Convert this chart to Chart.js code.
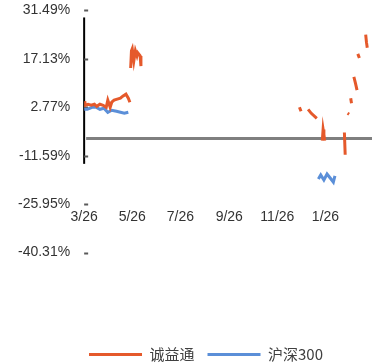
<!DOCTYPE html>
<html>
<head>
<meta charset="utf-8">
<script src="https://cdn.jsdelivr.net/npm/chart.js@4.4.1/dist/chart.umd.min.js"></script>
<style>
  html, body { margin: 0; padding: 0; background: #fff; }
  #wrap { width: 380px; height: 363px; }
</style>
</head>
<body>
<div id="wrap"><canvas id="chart"></canvas></div>
<script>
// x is days since 3/26; null breaks the line
var tickDays = [0, 61, 122, 184, 245, 306];
var tickLabels = ['3/26', '5/26', '7/26', '9/26', '11/26', '1/26'];
var yTicks = [31.49, 17.13, 2.77, -11.59, -25.95, -40.31];

var cytDays = [0, 1, 5, 9, 13, 16, 20, 24, 28, 30, 33, 35, 38, 42, 46, 49, 53, 56, 58,
  58.5, 59, 60, 61, 63, 65, 67, 68, 71, 72,
  200, 273, 275, 280, 284, 288, 295, 298, 302, 303, 304, 305,
  320, 330, 331, 333, 334, 336, 337, 338, 339, 341, 342, 344, 346,
  346.5, 347, 349, 352, 357, 358, 359];
var cytVals = [4.57, 3.37, 3.67, 3.37, 3.67, 3.07, 3.67, 3.37, 2.77, 4.87, 2.77, 4.27, 4.87, 5.17, 5.47, 6.06, 6.66, 5.47, 4.27,
  null, 14.4, 19.5, 20.1, 16.5, 19.5, 18.0, 18.9, 18.0, 15.0,
  null, 2.77, 1.58, null, 2.17, 0.98, -0.52, null, -7.1, -3.8, -5.3, -7.1,
  null, -4.7, -11.3, null, 0.98, 0.68, null, 5.47, 3.97, null, 11.75, 9.95, 7.86,
  null, 18.6, 17.4, null, 24.3, 22.0, 20.4];

var hsDays = [0, 4, 10, 15, 20, 25, 30, 35, 41, 46, 51, 56,
  150, 297, 300, 304, 308, 312, 316, 318];
var hsVals = [2.17, 2.17, 2.77, 2.77, 2.17, 2.47, 1.28, 1.88, 1.58, 1.28, 0.98, 1.28,
  null, -18.5, -17.3, -18.8, -17.0, -18.2, -19.4, -17.6];

var refLine = -6.5;          // grey horizontal line
var axisSpan = [29.4, -14.0]; // drawn part of the y axis line
var xAxisAt = -26.8;
var legendShift = 12;

function pts(days, vals) {
  return days.map(function (d, i) { return { x: d, y: vals[i] }; });
}

var axisDecor = {
  id: 'axisDecor',
  afterLayout: function (chart) {
    chart.legend.left += legendShift;
    chart.legend.right += legendShift;
  },
  beforeDatasetsDraw: function (chart) {
    var ctx = chart.ctx, y = chart.scales.y, a = chart.chartArea;
    ctx.save();
    ctx.strokeStyle = '#7f7f7f';
    ctx.lineWidth = 3;
    var gy = y.getPixelForValue(refLine);
    ctx.beginPath(); ctx.moveTo(a.left + 2, gy); ctx.lineTo(a.right, gy); ctx.stroke();

    ctx.strokeStyle = '#000';
    ctx.lineWidth = 2;
    ctx.beginPath();
    ctx.moveTo(a.left, y.getPixelForValue(axisSpan[0]));
    ctx.lineTo(a.left, y.getPixelForValue(axisSpan[1]));
    ctx.stroke();

    ctx.strokeStyle = '#595959';
    ctx.lineWidth = 2;
    yTicks.forEach(function (v) {
      var ty = Math.round(y.getPixelForValue(v)) + 0.5;
      ctx.beginPath(); ctx.moveTo(a.left, ty); ctx.lineTo(a.left + 4, ty); ctx.stroke();
    });
    ctx.restore();
  }
};

new Chart(document.getElementById('chart'), {
  type: 'line',
  data: {
    datasets: [{
      label: '诚益通',
      data: pts(cytDays, cytVals),
      borderColor: '#e5592b',
      backgroundColor: '#e5592b',
      borderWidth: 3,
      pointRadius: 0,
      spanGaps: false
    }, {
      label: '沪深300',
      data: pts(hsDays, hsVals),
      borderColor: '#5b8fd8',
      backgroundColor: '#5b8fd8',
      borderWidth: 3,
      pointRadius: 0,
      spanGaps: false
    }]
  },
  options: {
    responsive: true,
    maintainAspectRatio: false,
    animation: false,
    layout: { padding: { left: 16, right: 8, top: 0, bottom: -9 } },
    scales: {
      x: {
        type: 'linear',
        min: 0,
        max: 365,
        position: { y: xAxisAt },
        grid: { display: false, drawTicks: false },
        border: { display: false },
        afterBuildTicks: function (s) { s.ticks = tickDays.map(function (d) { return { value: d }; }); },
        ticks: {
          padding: 2,
          color: '#333',
          font: { family: 'Liberation Sans', size: 14 },
          maxRotation: 0,
          autoSkip: false,
          callback: function (v) { return tickLabels[tickDays.indexOf(v)]; }
        }
      },
      y: {
        min: -40.31,
        max: 31.49,
        grid: { display: true, drawOnChartArea: false, drawTicks: true, tickLength: 12, color: 'rgba(0,0,0,0)' },
        border: { display: false },
        afterBuildTicks: function (s) { s.ticks = yTicks.map(function (v) { return { value: v }; }); },
        ticks: {
          padding: 2,
          color: '#333',
          font: { family: 'Liberation Sans', size: 14 },
          callback: function (v) { return v.toFixed(2) + '%'; }
        }
      }
    },
    plugins: {
      tooltip: { enabled: false },
      legend: {
        position: 'bottom',
        title: { display: true, text: '', padding: { top: 0, bottom: 67 } },
        labels: {
          boxWidth: 53,
          boxHeight: 3,
          padding: 13,
          color: '#404040',
          font: { family: 'Noto Sans CJK SC', size: 15 },
          generateLabels: function (chart) {
            return Chart.defaults.plugins.legend.labels.generateLabels(chart).map(function (l) {
              l.lineWidth = 0;
              return l;
            });
          }
        }
      }
    }
  },
  plugins: [axisDecor]
});
</script>
</body>
</html>
